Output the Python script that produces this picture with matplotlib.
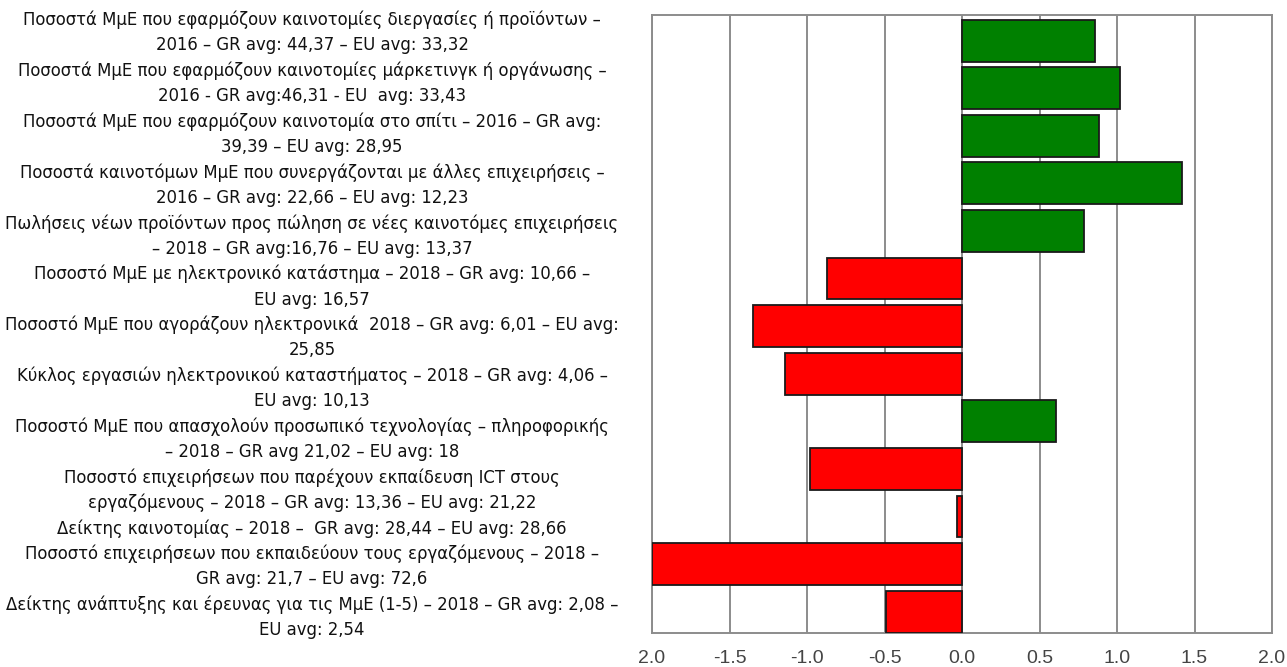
import matplotlib
matplotlib.use("Agg")
import matplotlib.pyplot as plt

labels = [
    "Ποσοστά ΜμΕ που εφαρμόζουν καινοτομίες διεργασίες ή προϊόντων –\n2016 – GR avg: 44,37 – EU avg: 33,32",
    "Ποσοστά ΜμΕ που εφαρμόζουν καινοτομίες μάρκετινγκ ή οργάνωσης –\n2016 - GR avg:46,31 - EU  avg: 33,43",
    "Ποσοστά ΜμΕ που εφαρμόζουν καινοτομία στο σπίτι – 2016 – GR avg:\n39,39 – EU avg: 28,95",
    "Ποσοστά καινοτόμων ΜμΕ που συνεργάζονται με άλλες επιχειρήσεις –\n2016 – GR avg: 22,66 – EU avg: 12,23",
    "Πωλήσεις νέων προϊόντων προς πώληση σε νέες καινοτόμες επιχειρήσεις\n– 2018 – GR avg:16,76 – EU avg: 13,37",
    "Ποσοστό ΜμΕ με ηλεκτρονικό κατάστημα – 2018 – GR avg: 10,66 –\nEU avg: 16,57",
    "Ποσοστό ΜμΕ που αγοράζουν ηλεκτρονικά  2018 – GR avg: 6,01 – EU avg:\n25,85",
    "Κύκλος εργασιών ηλεκτρονικού καταστήματος – 2018 – GR avg: 4,06 –\nEU avg: 10,13",
    "Ποσοστό ΜμΕ που απασχολούν προσωπικό τεχνολογίας – πληροφορικής\n– 2018 – GR avg 21,02 – EU avg: 18",
    "Ποσοστό επιχειρήσεων που παρέχουν εκπαίδευση ICT στους\nεργαζόμενους – 2018 – GR avg: 13,36 – EU avg: 21,22",
    "Δείκτης καινοτομίας – 2018 –  GR avg: 28,44 – EU avg: 28,66",
    "Ποσοστό επιχειρήσεων που εκπαιδεύουν τους εργαζόμενους – 2018 –\nGR avg: 21,7 – EU avg: 72,6",
    "Δείκτης ανάπτυξης και έρευνας για τις ΜμΕ (1-5) – 2018 – GR avg: 2,08 –\nEU avg: 2,54",
]
values = [0.855, 1.022, 0.881, 1.421, 0.79, -0.87, -1.348, -1.144, 0.607, -0.982, -0.033, -2.0, -0.49]
xticks = [-2.0, -1.5, -1.0, -0.5, 0.0, 0.5, 1.0, 1.5, 2.0]
xticklabels = ["2.0", "-1.5", "-1.0", "-0.5", "0.0", "0.5", "1.0", "1.5", "2.0"]

W, H = 1287, 667
fig = plt.figure(figsize=(W / 100, H / 100), dpi=100)

# main bar axes (pixel geometry: x 652..1272, y 15..633)
ax = fig.add_axes([652 / W, 1 - 633 / H, 620 / W, 618 / H])
pos = list(range(len(values)))
colors = ["#008000" if v >= 0 else "#ff0000" for v in values]
ax.barh(pos, values, height=0.88, color=colors, edgecolor="#1a1a1a", linewidth=1.3, zorder=3)
ax.set_xlim(-2.0, 2.0)
ax.set_ylim(12.45, -0.54)
ax.set_xticks(xticks)
ax.set_xticklabels(xticklabels, fontsize=14, color="#444444", family="Liberation Sans")
ax.tick_params(axis="x", length=0, pad=12)
ax.set_yticks([])
ax.grid(axis="x", color="#8c8c8c", linewidth=1.4, zorder=0)
for s in ax.spines.values():
    s.set_color("#8c8c8c")
    s.set_linewidth(1.4)

# label text: a continuous stack of lines, evenly spaced
lines = [ln for lab in labels for ln in lab.split("\n")]
n = len(lines)
first_y, last_y = 20.0, 630.0
step = (last_y - first_y) / (n - 1)
lax = fig.add_axes([0, 1 - (last_y + step / 2) / H, 620 / W, (last_y - first_y + step) / H])
lax.set_xlim(0, 620)
lax.set_ylim(n - 0.5, -0.5)
lax.axis("off")
for i, ln in enumerate(lines):
    lax.text(312, i, ln, ha="center", va="center", fontsize=11.9, color="#111111",
             family="DejaVu Sans")

fig.savefig("out.png", dpi=100)
